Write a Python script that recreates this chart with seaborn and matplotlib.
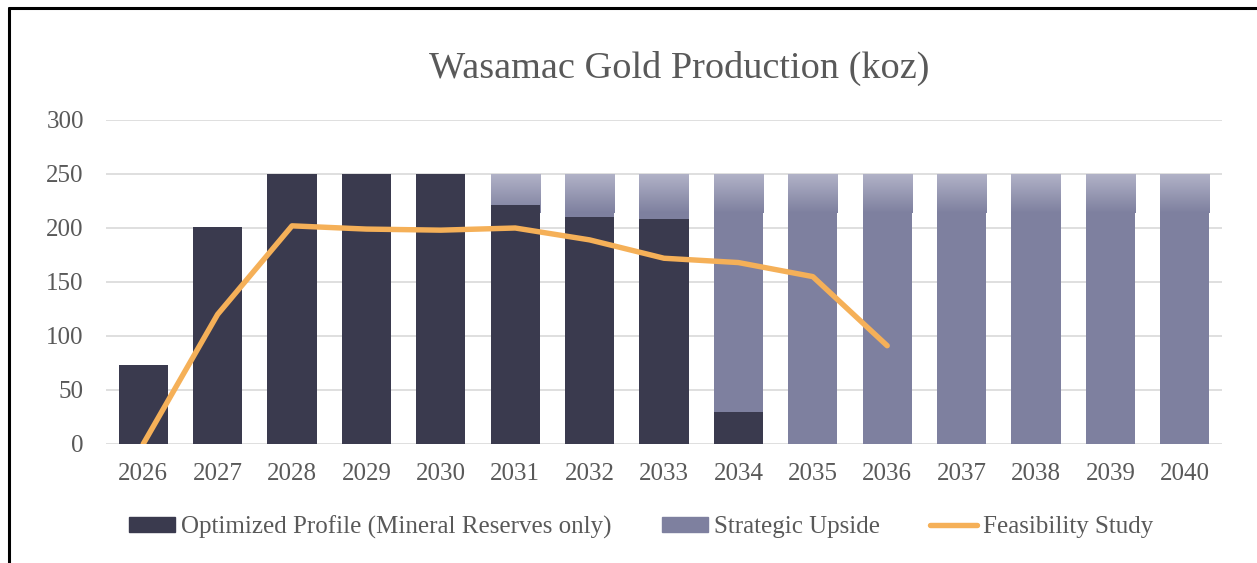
import numpy as np
import pandas as pd
import seaborn as sns
import matplotlib.pyplot as plt
from matplotlib.patches import Patch
from matplotlib.lines import Line2D
from matplotlib.colors import LinearSegmentedColormap

# datos (koz)
years = ['2026', '2027', '2028', '2029', '2030', '2031', '2032', '2033',
         '2034', '2035', '2036', '2037', '2038', '2039', '2040']
optimized = [73, 201, 250, 250, 250, 221, 210, 208, 30, 0, 0, 0, 0, 0, 0]
upside = [0, 0, 0, 0, 0, 29, 40, 42, 220, 250, 250, 250, 250, 250, 250]
feasibility = [0, 120, 202, 199, 198, 200, 189, 172, 168, 155, 91]

labels = ['Optimized Profile (Mineral Reserves only)', 'Strategic Upside', 'Feasibility Study']
title = 'Wasamac Gold Production (koz)'

c_dark = '#3a3a4e'
c_up = '#7e809f'
c_up_top = '#b1b2c7'
c_line = '#f5b058'
c_text = '#595959'

df = pd.DataFrame({'year': years, 'optimized': optimized, 'upside': upside})
df['total'] = df['optimized'] + df['upside']
df_fs = pd.DataFrame({'pos': np.arange(len(feasibility)), 'fs': feasibility})

sns.set_theme(style='white')
plt.rcParams['font.family'] = ['Liberation Serif', 'DejaVu Serif']

fig = plt.figure(figsize=(12.57, 5.63), dpi=100)
ax = fig.add_axes([106 / 1257, 1 - 444 / 563, 1116 / 1257, 324 / 563])

# barras apiladas: total primero, luego el perfil optimizado encima
sns.barplot(data=df, x='year', y='total', color=c_up, width=0.66, saturation=1,
            linewidth=0, ax=ax, zorder=2)
up_patches = list(ax.patches)
sns.barplot(data=df, x='year', y='optimized', color=c_dark, width=0.66, saturation=1,
            linewidth=0, ax=ax, zorder=4)

# degradado en la parte superior del "upside"
grad = np.linspace(0, 1, 128).reshape(-1, 1)
cmap = LinearSegmentedColormap.from_list('up', [c_up, c_up_top])
for p, u in zip(up_patches, upside):
    if u <= 0:
        continue
    x0 = p.get_x()
    x1 = x0 + p.get_width()
    top = p.get_height()
    ax.imshow(grad, extent=[x0, x1, top - 36, top], origin='lower', cmap=cmap,
              aspect='auto', zorder=3, interpolation='bilinear')

sns.lineplot(data=df_fs, x='pos', y='fs', color=c_line, linewidth=3.9, ax=ax,
             zorder=5, solid_capstyle='round')

ax.set_xlim(-0.5, len(years) - 0.5)
ax.set_ylim(0, 300)
ax.set_yticks([0, 50, 100, 150, 200, 250, 300])
ax.set_xlabel('')
ax.set_ylabel('')
ax.grid(axis='y', color='#d9d9d9', linewidth=1.2)
ax.set_axisbelow(True)
for s in ax.spines.values():
    s.set_visible(False)
ax.tick_params(axis='both', length=0, labelsize=18, labelcolor=c_text)
ax.tick_params(axis='y', pad=16)
ax.tick_params(axis='x', pad=14)

fig.text(679 / 1257, 1 - 68 / 563, title, ha='center', va='center', fontsize=27.5, color=c_text)

handles = [Patch(color=c_dark), Patch(color=c_up),
           Line2D([0], [0], color=c_line, linewidth=3.9, solid_capstyle='round')]
fig.legend(handles, labels, loc='center', bbox_to_anchor=(641 / 1257, 1 - 527 / 563), ncol=3,
           frameon=False, fontsize=18, labelcolor=c_text, handlelength=1.85, handleheight=0.5,
           handletextpad=0.25, columnspacing=2.0)

# marco negro (arriba e izquierda)
fig.add_artist(Line2D([9 / 1257, 9 / 1257], [0, 1 - 8 / 563], color='black', linewidth=2.2,
                      transform=fig.transFigure))
fig.add_artist(Line2D([9 / 1257, 1], [1 - 8 / 563, 1 - 8 / 563], color='black', linewidth=2.2,
                      transform=fig.transFigure))

fig.savefig('out.png', dpi=100)
